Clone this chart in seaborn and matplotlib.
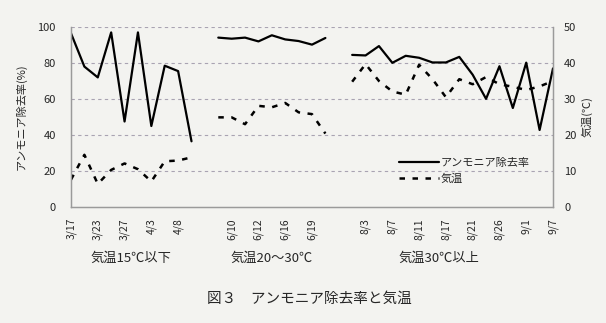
import numpy as np
import pandas as pd
import matplotlib
matplotlib.use("Agg")
import matplotlib.pyplot as plt
import matplotlib.transforms as mtransforms
from matplotlib.lines import Line2D
import seaborn as sns

# ---------------- data ----------------
nan = np.nan
removal_rate = [96.5, 78, 72, 97, 47.5, 97, 45, 78.5, 75.5, 36.5,
                nan,
                94.1, 93.5, 94.1, 92, 95.4, 93.1, 92.2, 90.2, 93.9,
                nan,
                84.5, 84.2, 89.4, 80.1, 84, 82.9, 80.3, 80.3, 83.4, 73.5,
                60.1, 78.2, 55, 80.2, 42.8, 77]
air_temp = [7.6, 14.5, 6.4, 10.3, 12.1, 10.5, 7.1, 12.7, 12.9, 13.8,
            nan,
            24.9, 24.9, 23, 28.1, 27.7, 28.9, 26.3, 25.8, 20.4,
            nan,
            34.8, 39.7, 35, 32.1, 31.2, 39.5, 35.5, 30.5, 35.5, 34.1,
            36.1, 34.1, 33.4, 32.5, 33.5, 35]
tick_labels = ["3/17", "3/23", "3/27", "4/3", "4/8", "",
               "6/10", "6/12", "6/16", "6/19", "",
               "8/3", "8/7", "8/11", "8/17", "8/21", "8/26", "9/1", "9/7"]
group_names = ["気温15℃以下", "気温20～30℃", "気温30℃以上"]
group_sizes = [10, 9, 16]

series_labels = ["アンモニア除去率", "気温"]
left_label = "アンモニア除去率(%)"
right_label = "気温(℃)"
title = "図３　アンモニア除去率と気温"

# ---------------- table ----------------
groups = []
for gi, n in enumerate(group_sizes):
    groups += [gi] * n
    if gi < len(group_sizes) - 1:
        groups.append(nan)
df = pd.DataFrame({"x": np.arange(len(removal_rate)),
                   "removal": removal_rate,
                   "temp": air_temp,
                   "group": groups}).dropna()

# ---------------- style ----------------
sns.set_theme(style="white")
plt.rcParams["font.family"] = ["Noto Sans CJK JP", "DejaVu Sans"]
bg = "#f3f3f0"

fig = plt.figure(figsize=(6.06, 3.23), dpi=100, facecolor=bg)
ax = fig.add_axes([71 / 606, 1 - 207 / 323, 482 / 606, 180 / 323])
ax.set_facecolor(bg)

sns.lineplot(data=df, x="x", y="removal", units="group", estimator=None,
             color="black", linewidth=1.6, ax=ax, legend=False)
ax2 = ax.twinx()
sns.lineplot(data=df, x="x", y="temp", units="group", estimator=None,
             color="black", linewidth=1.8, ax=ax2, legend=False)
for ln in ax2.get_lines():
    ln.set_dashes((2.2, 3.0))

n = len(removal_rate)
ax.set_xlim(0, n - 1)
ax.set_ylim(0, 100)
ax2.set_ylim(0, 50)
ax.set_yticks(range(0, 101, 20))
ax2.set_yticks(range(0, 51, 10))
ax.set_xticks(np.arange(0, n, 2))
ax.set_xticklabels(tick_labels, rotation=90, fontsize=7.5)

for y in range(20, 101, 20):
    ax.axhline(y, color="#a9a3b2", lw=0.8, ls=(0, (3, 3)), zorder=0)

gray = "#9a9a9a"
for a in (ax, ax2):
    a.spines["top"].set_visible(False)
    for s in ("left", "right", "bottom"):
        a.spines[s].set_color(gray)
        a.spines[s].set_linewidth(0.9)
    a.set_xlabel("")
ax.tick_params(axis="both", length=0)
ax.tick_params(axis="y", pad=11, labelsize=8)
ax.tick_params(axis="x", pad=8)
ax2.tick_params(axis="y", length=0, pad=8, labelsize=8)
ax.set_ylabel(left_label, fontsize=8, labelpad=8)
ax2.set_ylabel(right_label, fontsize=8, rotation=90, labelpad=3)

# group captions under the date labels
trans = mtransforms.blended_transform_factory(ax.transData, ax.transAxes)
starts = np.cumsum([0] + [s + 1 for s in group_sizes[:-1]])
centers = [st + (sz - 1) / 2 for st, sz in zip(starts, group_sizes)]
centers[-1] -= 1.0
for cx, name in zip(centers, group_names):
    ax.text(cx, -0.285, name, transform=trans, ha="center", va="center",
            fontsize=9.5)

# legend
handles = [Line2D([], [], color="black", lw=1.6),
           Line2D([], [], color="black", lw=1.8, dashes=(2.2, 3.0))]
ax2.legend(handles, series_labels, loc="center left",
           bbox_to_anchor=(0.66, 0.2), frameon=False, fontsize=8,
           handlelength=3.6, handletextpad=0.1, labelspacing=0.5)

fig.text(0.51, 0.075, title, ha="center", va="center", fontsize=10.5)

fig.savefig("out.png", dpi=100, facecolor=bg)
